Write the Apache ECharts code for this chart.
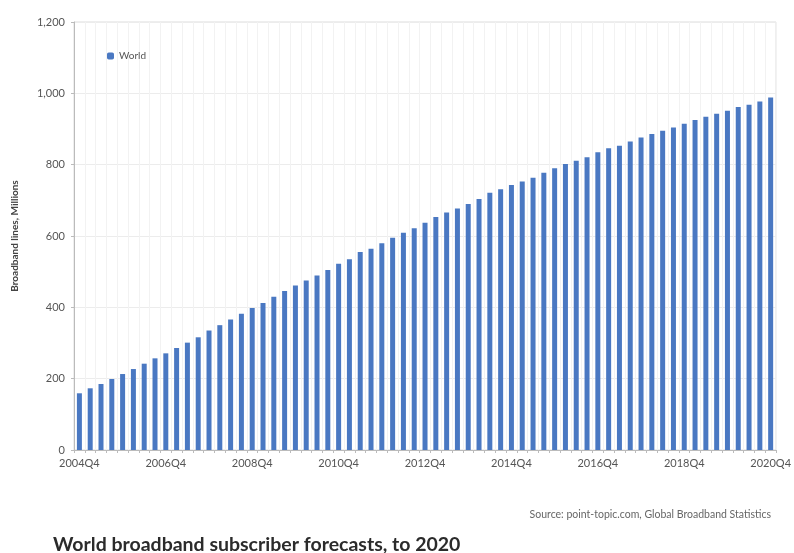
<!DOCTYPE html>
<html>
<head>
<meta charset="utf-8">
<script src="https://cdn.jsdelivr.net/npm/echarts@6/dist/echarts.min.js"></script>
<style>
  html, body { margin: 0; padding: 0; background: #fff; }
  #chart { width: 794px; height: 553px; }
</style>
</head>
<body>
<div id="chart"></div>
<script>
// quarters 2004Q4 .. 2020Q4
var quarters = [];
quarters.push('2004Q4');
for (var y = 2005; y <= 2020; y++) {
  for (var q = 1; q <= 4; q++) quarters.push(y + 'Q' + q);
}

// broadband lines, millions
var world = [
  159, 173, 185, 199, 213, 227, 242, 257, 271, 286, 301, 316, 335, 350, 366, 382,
  398, 412, 430, 446, 461, 475, 489, 505, 522, 535, 555, 564, 580, 595, 609, 622,
  637, 653, 666, 677, 690, 704, 721, 731, 743, 753, 763, 777, 790, 802, 811, 821,
  835, 846, 853, 865, 876, 886, 895, 904, 915, 925, 934, 943, 951, 962, 968, 977,
  988
];

var yTicks = [0, 200, 400, 600, 800, 1000, 1200];

var chart = echarts.init(document.getElementById('chart'));

var option = {
  animation: false,
  backgroundColor: '#fff',
  textStyle: { fontFamily: 'Lato, "Noto Sans", sans-serif' },
  title: [{
    text: 'World broadband subscriber forecasts, to 2020',
    left: 48,
    top: 530,
    textStyle: { fontSize: 19.5, fontWeight: 'bold', color: '#2b2b2b', fontFamily: 'Lato' }
  }, {
    text: 'Source: point-topic.com, Global Broadband Statistics',
    right: 18,
    top: 504,
    textStyle: { fontSize: 10.5, fontWeight: 'normal', color: '#666', fontFamily: 'Lato' }
  }],
  legend: {
    data: ['World'],
    left: 102,
    top: 46,
    itemWidth: 7,
    itemHeight: 7,
    itemGap: 4,
    textStyle: { fontSize: 10, color: '#555' }
  },
  grid: {
    left: 74,
    right: 17,
    top: 22,
    bottom: 103,
    show: true,
    borderColor: '#dcdcdc',
    borderWidth: 1
  },
  xAxis: {
    type: 'category',
    data: quarters,
    axisLine: { lineStyle: { color: '#bbb' } },
    axisTick: { show: true, interval: 0, length: 3, lineStyle: { color: '#bbb' } },
    axisLabel: { interval: 7, fontSize: 11, color: '#555', margin: 8 },
    splitLine: { show: true, interval: 0, lineStyle: { color: '#f2f2f2' } }
  },
  yAxis: {
    type: 'value',
    min: yTicks[0],
    max: yTicks[yTicks.length - 1],
    interval: 200,
    name: 'Broadband lines, Millions',
    nameLocation: 'middle',
    nameGap: 54,
    nameTextStyle: { fontSize: 10, fontWeight: 'bold', color: '#444' },
    axisLine: { show: true, lineStyle: { color: '#bbb' } },
    axisTick: { show: true, length: 3, lineStyle: { color: '#bbb' } },
    axisLabel: {
      fontSize: 11,
      color: '#555',
      margin: 9,
      formatter: function (v) { return v.toLocaleString('en-US'); }
    },
    splitLine: { show: true, lineStyle: { color: '#ececec' } }
  },
  series: [{
    name: 'World',
    type: 'bar',
    data: world,
    barWidth: 5,
    itemStyle: { color: '#4a78c2' }
  }]
};

chart.setOption(option);
</script>
</body>
</html>
